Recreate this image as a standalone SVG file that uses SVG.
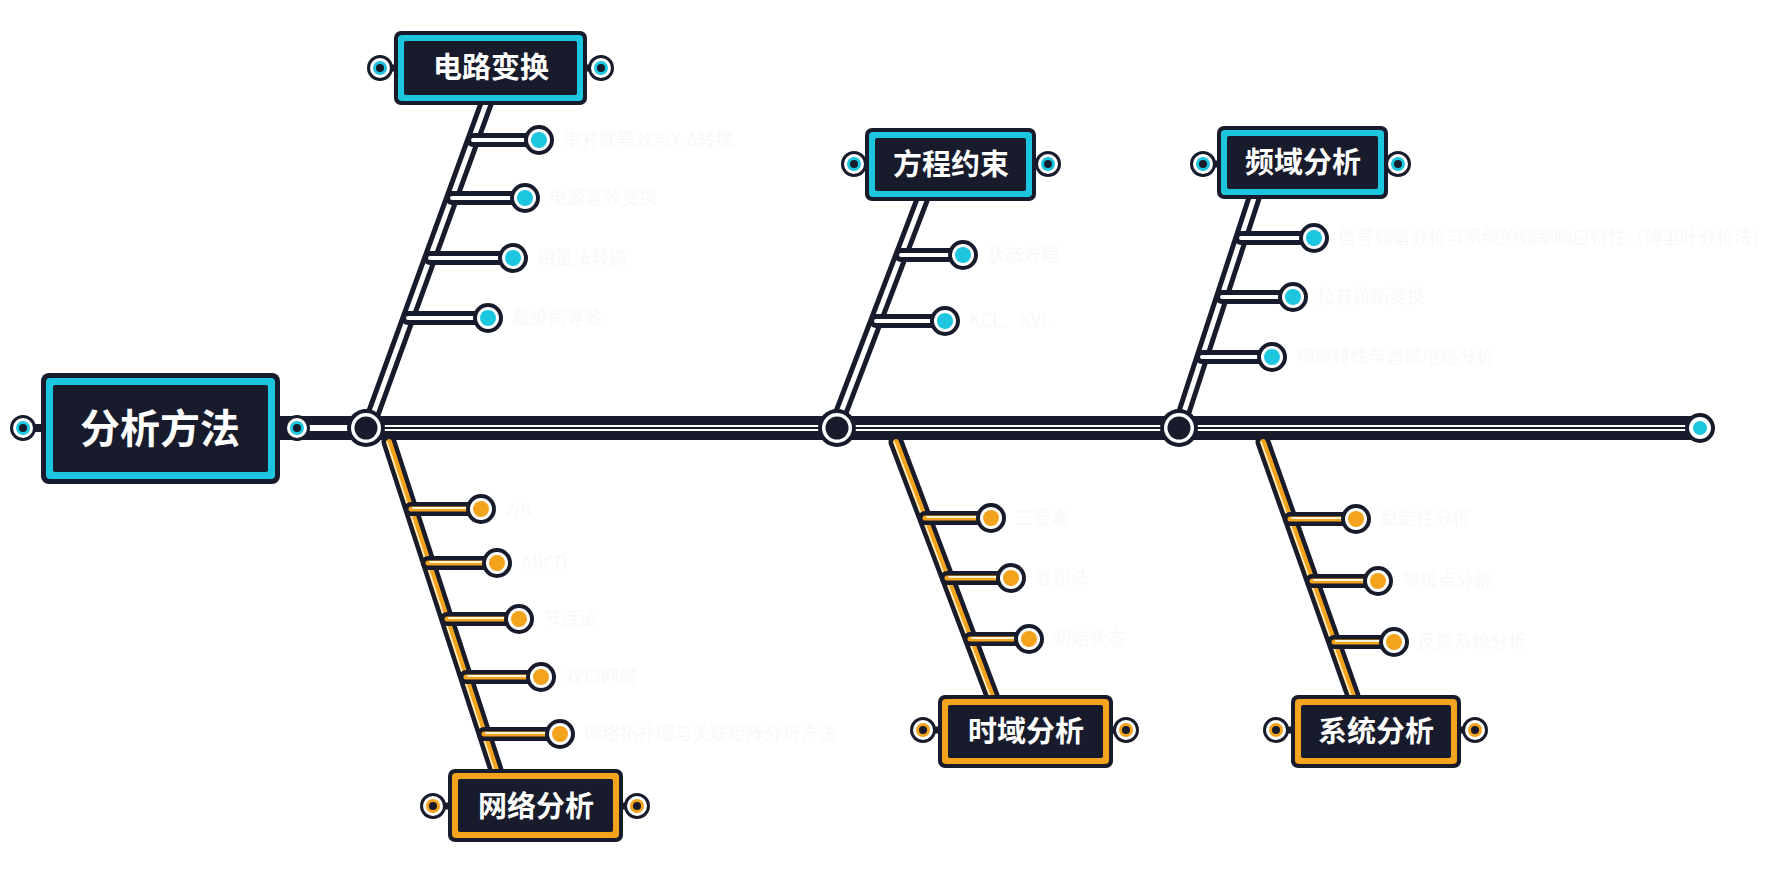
<svg xmlns="http://www.w3.org/2000/svg" width="1768" height="890" viewBox="0 0 1768 890">
<style>
.bg{fill:#ffffff}
.dk{fill:#181b2b}
.cy{fill:#1cc6de}
.or{fill:#f4a31c}
.wh{fill:#ffffff}
.lnD{fill:none;stroke:#181b2b;stroke-linecap:round;stroke-linejoin:round}
.lnW{fill:none;stroke:#ffffff;stroke-linecap:round}
.lnO{fill:none;stroke:#f4a31c;stroke-linecap:round}
.lnC{fill:none;stroke:#fff3d6;stroke-linecap:round}
.t-main{font-family:"Noto Sans CJK SC","Noto Sans",sans-serif;font-weight:700;font-size:40px;fill:#ffffff;text-anchor:middle}
.t-br{font-family:"Noto Sans CJK SC","Noto Sans",sans-serif;font-weight:700;font-size:29px;fill:#ffffff;text-anchor:middle}
.t-leaf{font-family:"Noto Sans CJK SC","Noto Sans",sans-serif;font-size:18px;fill:#f6f9f6}
</style>
<defs>
<g id="leafC"><circle r="15" class="dk"/><circle r="11" class="wh"/><circle r="8" class="cy"/></g>
<g id="leafO"><circle r="15" class="dk"/><circle r="11" class="wh"/><circle r="8" class="or"/></g>
<g id="sideC"><circle r="13" class="dk"/><circle r="10" class="wh"/><circle r="7" class="cy"/><circle r="4" class="dk"/></g>
<g id="sideO"><circle r="13" class="dk"/><circle r="10" class="wh"/><circle r="7" class="or"/><circle r="4" class="dk"/></g>
<g id="junc"><circle r="19" class="dk"/><circle r="15" class="wh"/><circle r="11.5" class="dk"/></g>
</defs>
<rect class="bg" x="0" y="0" width="1768" height="890"/>

<g id="connectors">
  <path class="lnD" stroke-width="24" d="M279 428 H1700"/>
  <path class="lnW" stroke-width="6" d="M284 428 H1695"/>
  <path class="lnD" stroke-width="2" d="M366 428 H1695"/>
  <path class="lnD" stroke-width="15" d="M372 417 L487 101"/>
  <path class="lnW" stroke-width="5" d="M372 417 L487 101"/>
  <path class="lnD" stroke-width="15" d="M840 415 L922 200"/>
  <path class="lnW" stroke-width="5" d="M840 415 L922 200"/>
  <path class="lnD" stroke-width="15" d="M1183 415 L1254 198"/>
  <path class="lnW" stroke-width="5" d="M1183 415 L1254 198"/>
  <g>
    <path class="lnD" stroke-width="14" d="M473 140 H539 M452 198 H525 M430 258 H513 M408 318 H488"/>
    <path class="lnW" stroke-width="4" d="M473 140 H539 M452 198 H525 M430 258 H513 M408 318 H488"/>
    <path class="lnD" stroke-width="14" d="M901 255 H963 M876 321 H945"/>
    <path class="lnW" stroke-width="4" d="M901 255 H963 M876 321 H945"/>
    <path class="lnD" stroke-width="14" d="M1241 238 H1314 M1222 297 H1293 M1202 357 H1272"/>
    <path class="lnW" stroke-width="4" d="M1241 238 H1314 M1222 297 H1293 M1202 357 H1272"/>
  </g>
  <path class="lnD" stroke-width="15" d="M389 442 L496 770"/>
  <path class="lnO" stroke-width="6" d="M389 442 L496 770"/>
  <path class="lnC" stroke-width="1.5" d="M387 442 L494 770"/>
  <path class="lnD" stroke-width="15" d="M896 442 L992 696"/>
  <path class="lnO" stroke-width="6" d="M896 442 L992 696"/>
  <path class="lnC" stroke-width="1.5" d="M894 442 L990 696"/>
  <path class="lnD" stroke-width="15" d="M1263 442 L1353 696"/>
  <path class="lnO" stroke-width="6" d="M1263 442 L1353 696"/>
  <path class="lnC" stroke-width="1.5" d="M1261 442 L1351 696"/>
  <g>
    <path class="lnD" stroke-width="14" d="M411 509 H481 M428 563 H497 M447 619 H519 M466 677 H541 M484 734 H560"/>
    <path class="lnO" stroke-width="5" d="M411 509 H481 M428 563 H497 M447 619 H519 M466 677 H541 M484 734 H560"/>
    <path class="lnC" stroke-width="2" d="M413 508 H478 M430 562 H494 M449 618 H516 M468 676 H538 M486 733 H557"/>
    <path class="lnD" stroke-width="14" d="M925 518 H991 M947 578 H1011 M970 639 H1029"/>
    <path class="lnO" stroke-width="5" d="M925 518 H991 M947 578 H1011 M970 639 H1029"/>
    <path class="lnC" stroke-width="2" d="M927 517 H988 M949 577 H1008 M972 638 H1026"/>
    <path class="lnD" stroke-width="14" d="M1290 519 H1356 M1312 581 H1378 M1334 642 H1394"/>
    <path class="lnO" stroke-width="5" d="M1290 519 H1356 M1312 581 H1378 M1334 642 H1394"/>
    <path class="lnC" stroke-width="2" d="M1292 518 H1353 M1314 580 H1375 M1336 641 H1391"/>
  </g>
  <use href="#junc" x="366" y="428"/>
  <use href="#junc" x="837" y="428"/>
  <use href="#junc" x="1179" y="428"/>
  <circle cx="1700" cy="428" r="15" class="dk"/>
  <circle cx="1700" cy="428" r="11" class="wh"/>
  <circle cx="1700" cy="428" r="7" class="cy"/>
</g>

<g id="node-main">
  <path class="lnD" stroke-width="8" d="M23 428 H50 M270 428 H297"/>
  <use href="#sideC" x="23" y="428"/>
  <use href="#sideC" x="297" y="428"/>
  <rect x="41" y="373" width="239" height="111" rx="8" class="dk"/>
  <rect x="46" y="378" width="229" height="101" rx="4" class="cy"/>
  <rect x="53" y="385" width="215" height="87" rx="2" class="dk"/>
  <text x="160" y="443" class="t-main">分析方法</text>
</g>

<g id="node-dianlu">
  <path class="lnD" stroke-width="7" d="M380 68 H400 M580 68 H601"/>
  <use href="#sideC" x="380" y="68"/>
  <use href="#sideC" x="601" y="68"/>
  <rect x="394" y="31" width="193" height="74" rx="7" class="dk"/>
  <rect x="398" y="35" width="185" height="66" rx="4" class="cy"/>
  <rect x="404" y="41" width="173" height="54" rx="2" class="dk"/>
  <text x="491" y="78" class="t-br">电路变换</text>
  <use href="#leafC" x="539" y="140"/>
  <use href="#leafC" x="525" y="198"/>
  <use href="#leafC" x="513" y="258"/>
  <use href="#leafC" x="488" y="318"/>
  <text x="563" y="146" class="t-leaf">串并联等效与Y-Δ转换</text>
  <text x="549" y="204" class="t-leaf">电源等效变换</text>
  <text x="537" y="264" class="t-leaf">相量法转换</text>
  <text x="512" y="324" class="t-leaf">戴维南等效</text>
</g>

<g id="node-fangcheng">
  <path class="lnD" stroke-width="7" d="M854 164 H870 M1030 164 H1048"/>
  <use href="#sideC" x="854" y="164"/>
  <use href="#sideC" x="1048" y="164"/>
  <rect x="865" y="128" width="171" height="73" rx="7" class="dk"/>
  <rect x="869" y="132" width="163" height="65" rx="4" class="cy"/>
  <rect x="875" y="138" width="151" height="53" rx="2" class="dk"/>
  <text x="951" y="175" class="t-br">方程约束</text>
  <use href="#leafC" x="963" y="255"/>
  <use href="#leafC" x="945" y="321"/>
  <text x="987" y="261" class="t-leaf">状态方程</text>
  <text x="969" y="327" class="t-leaf">KCL、KVL</text>
</g>

<g id="node-pinyu">
  <path class="lnD" stroke-width="7" d="M1203 164 H1222 M1382 164 H1398"/>
  <use href="#sideC" x="1203" y="164"/>
  <use href="#sideC" x="1398" y="164"/>
  <rect x="1217" y="126" width="171" height="73" rx="7" class="dk"/>
  <rect x="1221" y="130" width="163" height="65" rx="4" class="cy"/>
  <rect x="1227" y="136" width="151" height="53" rx="2" class="dk"/>
  <text x="1303" y="173" class="t-br">频域分析</text>
  <use href="#leafC" x="1314" y="238"/>
  <use href="#leafC" x="1293" y="297"/>
  <use href="#leafC" x="1272" y="357"/>
  <text x="1338" y="244" class="t-leaf">信号频谱分析与系统的频率响应特性（傅里叶分析法）</text>
  <text x="1317" y="303" class="t-leaf">拉普拉斯变换</text>
  <text x="1296" y="363" class="t-leaf">频率特性与谐振电路分析</text>
</g>

<g id="node-wangluo">
  <path class="lnD" stroke-width="7" d="M433 806 H453 M618 806 H637"/>
  <use href="#sideO" x="433" y="806"/>
  <use href="#sideO" x="637" y="806"/>
  <rect x="448" y="769" width="175" height="73" rx="7" class="dk"/>
  <rect x="452" y="773" width="167" height="65" rx="4" class="or"/>
  <rect x="458" y="779" width="155" height="53" rx="2" class="dk"/>
  <text x="536" y="817" class="t-br">网络分析</text>
  <use href="#leafO" x="481" y="509"/>
  <use href="#leafO" x="497" y="563"/>
  <use href="#leafO" x="519" y="619"/>
  <use href="#leafO" x="541" y="677"/>
  <use href="#leafO" x="560" y="734"/>
  <text x="505" y="515" class="t-leaf">z/h</text>
  <text x="521" y="569" class="t-leaf">ABCD</text>
  <text x="543" y="625" class="t-leaf">节点法</text>
  <text x="565" y="683" class="t-leaf">双口网络</text>
  <text x="584" y="740" class="t-leaf">网络拓扑图与关联矩阵分析方法</text>
</g>

<g id="node-shiyu">
  <path class="lnD" stroke-width="7" d="M923 730 H943 M1108 730 H1126"/>
  <use href="#sideO" x="923" y="730"/>
  <use href="#sideO" x="1126" y="730"/>
  <rect x="938" y="695" width="175" height="73" rx="7" class="dk"/>
  <rect x="942" y="699" width="167" height="65" rx="4" class="or"/>
  <rect x="948" y="705" width="155" height="53" rx="2" class="dk"/>
  <text x="1026" y="742" class="t-br">时域分析</text>
  <use href="#leafO" x="991" y="518"/>
  <use href="#leafO" x="1011" y="578"/>
  <use href="#leafO" x="1029" y="639"/>
  <text x="1015" y="524" class="t-leaf">三要素</text>
  <text x="1035" y="584" class="t-leaf">卷积法</text>
  <text x="1053" y="645" class="t-leaf">初始状态</text>
</g>

<g id="node-xitong">
  <path class="lnD" stroke-width="7" d="M1276 730 H1296 M1456 730 H1475"/>
  <use href="#sideO" x="1276" y="730"/>
  <use href="#sideO" x="1475" y="730"/>
  <rect x="1291" y="695" width="170" height="73" rx="7" class="dk"/>
  <rect x="1295" y="699" width="162" height="65" rx="4" class="or"/>
  <rect x="1301" y="705" width="150" height="53" rx="2" class="dk"/>
  <text x="1376" y="742" class="t-br">系统分析</text>
  <use href="#leafO" x="1356" y="519"/>
  <use href="#leafO" x="1378" y="581"/>
  <use href="#leafO" x="1394" y="642"/>
  <text x="1380" y="525" class="t-leaf">稳定性分析</text>
  <text x="1402" y="587" class="t-leaf">零极点分析</text>
  <text x="1418" y="648" class="t-leaf">反馈系统分析</text>
</g>
</svg>
